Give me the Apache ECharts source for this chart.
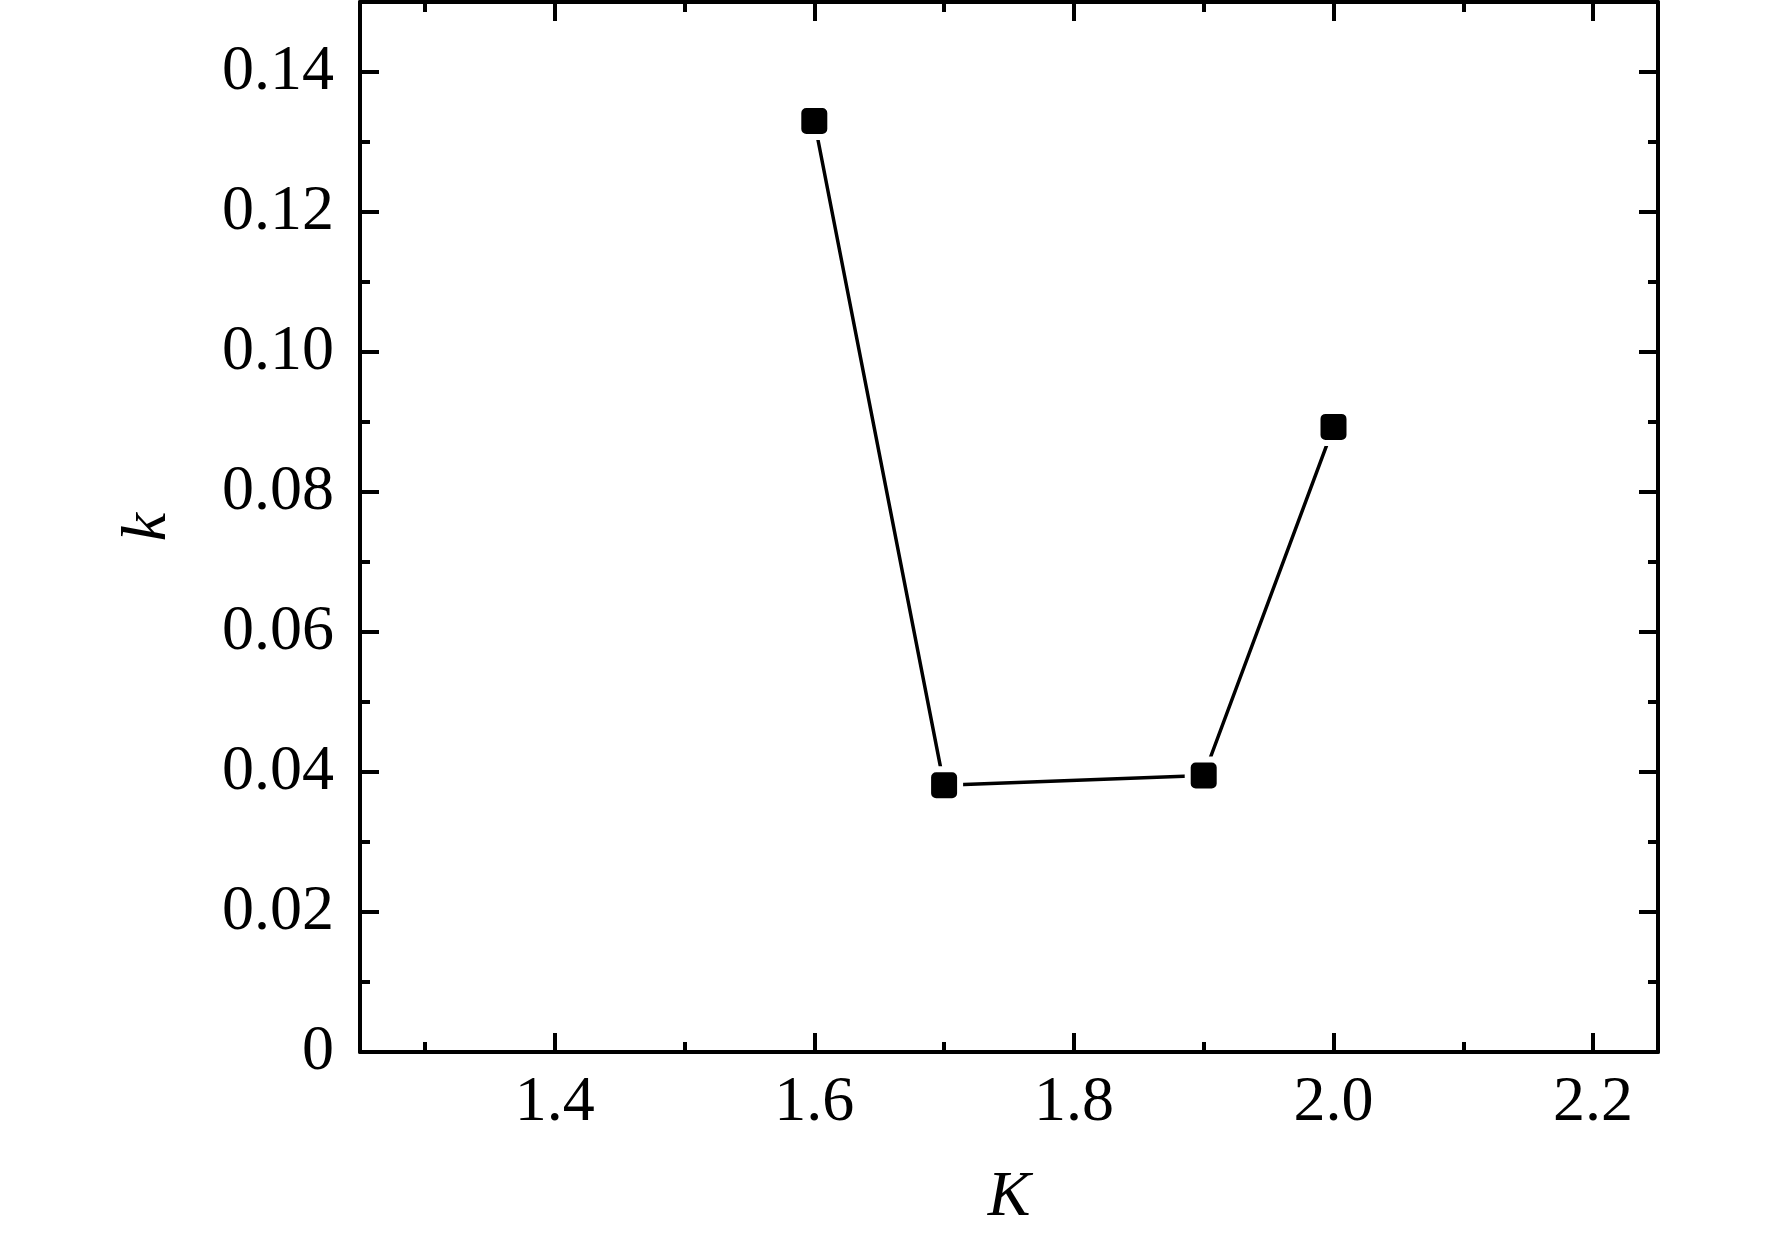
<!DOCTYPE html>
<html>
<head>
<meta charset="utf-8">
<script src="https://cdn.jsdelivr.net/npm/echarts@6/dist/echarts.min.js"></script>
<style>html,body{margin:0;padding:0;background:#fff}#c{width:1772px;height:1241px}</style>
</head>
<body>
<div id="c"></div>
<script>
var xValues = [1.6, 1.7, 1.9, 2.0];
var kValues = [0.133, 0.0381, 0.0395, 0.0893];
var xMajorTicks = [1.4, 1.6, 1.8, 2.0, 2.2];
var xMinorTicks = [1.3, 1.5, 1.7, 1.9, 2.1];
var yMajorTicks = [0, 0.02, 0.04, 0.06, 0.08, 0.10, 0.12, 0.14];
var yMinorTicks = [0.01, 0.03, 0.05, 0.07, 0.09, 0.11, 0.13];
var xTitle = 'K';
var yTitle = 'k';

var FONT = '"Liberation Serif", "Times New Roman", serif';
var chart = echarts.init(document.getElementById('c'), null, {renderer: 'canvas'});

function xAxisDef(pos, ticks, len, showLine, showLabel, name) {
  return {
    type: 'value', position: pos, min: 1.25, max: 2.25,
    name: name || '', nameLocation: 'middle', nameGap: 114,
    nameTextStyle: {fontFamily: FONT, fontStyle: 'italic', fontSize: 64, color: '#000'},
    axisLine: {show: showLine, onZero: false, lineStyle: {color: '#000', width: 4}},
    axisTick: {show: true, inside: true, length: len, customValues: ticks, lineStyle: {color: '#000', width: 4}},
    axisLabel: {show: showLabel, customValues: ticks, margin: 19, fontFamily: FONT, fontSize: 64, color: '#000',
      formatter: function (v) { return v.toFixed(1); }},
    splitLine: {show: false}
  };
}
function yAxisDef(pos, ticks, len, showLine, showLabel, name) {
  return {
    type: 'value', position: pos, min: 0, max: 0.15,
    name: name || '', nameLocation: 'middle', nameGap: 180, nameRotate: 90,
    nameTextStyle: {fontFamily: FONT, fontStyle: 'italic', fontSize: 64, color: '#000'},
    axisLine: {show: showLine, onZero: false, lineStyle: {color: '#000', width: 4}},
    axisTick: {show: true, inside: true, length: len, customValues: ticks, lineStyle: {color: '#000', width: 4}},
    axisLabel: {show: showLabel, customValues: ticks, margin: 26, fontFamily: FONT, fontSize: 64, color: '#000',
      formatter: function (v) { return v === 0 ? '0' : v.toFixed(2); }},
    splitLine: {show: false}
  };
}

chart.setOption({
  animation: false,
  backgroundColor: '#fff',
  grid: {left: 360, right: 114, top: 2, bottom: 189},
  xAxis: [
    xAxisDef('bottom', xMajorTicks, 19, true, true, xTitle),
    xAxisDef('bottom', xMinorTicks, 10, false, false),
    xAxisDef('top', xMajorTicks, 19, true, false),
    xAxisDef('top', xMinorTicks, 10, false, false)
  ],
  yAxis: [
    yAxisDef('left', yMajorTicks, 19, true, true, yTitle),
    yAxisDef('left', yMinorTicks, 10, false, false),
    yAxisDef('right', yMajorTicks, 19, true, false),
    yAxisDef('right', yMinorTicks, 10, false, false)
  ],
  series: [{
    type: 'line',
    xAxisIndex: 0, yAxisIndex: 0,
    data: xValues.map(function (x, i) { return [x, kValues[i]]; }),
    symbol: 'roundRect',
    symbolSize: 32,
    lineStyle: {color: '#000', width: 3.5},
    itemStyle: {color: '#000', borderColor: '#fff', borderWidth: 6},
    z: 3
  }]
});
</script>
</body>
</html>
